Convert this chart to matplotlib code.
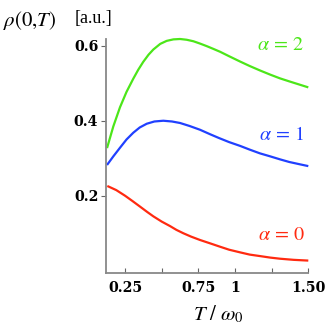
import matplotlib
matplotlib.use("Agg")
import matplotlib.pyplot as plt

plt.rcParams['mathtext.fontset'] = 'stix'
plt.rcParams['font.family'] = ['Liberation Serif', 'DejaVu Serif']

T_green = [0.127, 0.17, 0.2155, 0.26, 0.306, 0.34, 0.374, 0.41, 0.443, 0.49, 0.534, 0.58, 0.625,
           0.67, 0.716, 0.76, 0.807, 0.85, 0.898, 0.96, 1.034, 1.10, 1.171, 1.24, 1.307, 1.37, 1.443, 1.5]
rho_green = [0.327, 0.385, 0.436, 0.477, 0.512, 0.536, 0.557, 0.576, 0.590, 0.605, 0.613, 0.617, 0.618,
             0.616, 0.612, 0.606, 0.599, 0.592, 0.584, 0.572, 0.558, 0.546, 0.534, 0.523, 0.513, 0.505, 0.496, 0.489]

T_blue = [0.127, 0.17, 0.2155, 0.26, 0.306, 0.35, 0.398, 0.45, 0.511, 0.57, 0.625, 0.69, 0.761,
          0.83, 0.89, 0.96, 1.034, 1.10, 1.17, 1.24, 1.307, 1.37, 1.44, 1.5]
rho_blue = [0.282, 0.305, 0.328, 0.350, 0.368, 0.382, 0.392, 0.398, 0.400, 0.398, 0.394, 0.386, 0.376,
            0.364, 0.354, 0.343, 0.333, 0.323, 0.313, 0.305, 0.297, 0.290, 0.284, 0.279]

T_red = [0.129, 0.19, 0.25, 0.30, 0.352, 0.40, 0.443, 0.50, 0.557, 0.60, 0.647, 0.70, 0.761,
         0.83, 0.898, 0.96, 1.034, 1.10, 1.171, 1.24, 1.307, 1.40, 1.5]
rho_red = [0.226, 0.215, 0.200, 0.186, 0.171, 0.157, 0.145, 0.131, 0.119, 0.109, 0.100, 0.091, 0.082,
           0.073, 0.064, 0.056, 0.049, 0.043, 0.039, 0.035, 0.032, 0.029, 0.027]

series = [
    (T_green, rho_green, '#4ce619', r'$\alpha\,=\,2$'),
    (T_blue, rho_blue, '#2040ff', r'$\alpha\,=\,1$'),
    (T_red, rho_red, '#ff2a10', r'$\alpha\,=\,0$'),
]

xticks = [0.25, 0.5, 0.75, 1.0, 1.25, 1.5]
xticklabels = ['0.25', '', '0.75', '1', '', '1.50']
yticks = [0.2, 0.4, 0.6]
yticklabels = ['0.2', '0.4', '0.6']

fig = plt.figure(figsize=(3.32, 3.32), dpi=100)
ax = fig.add_axes([106/332, 1-272.7/332, (308.3-106)/332, (272.7-39)/332])

for T, r, c, lab in series:
    ax.plot(T, r, color=c, lw=1.6, solid_capstyle='butt', solid_joinstyle='round', clip_on=False)

ax.set_xlim(0.12, 1.5)
ax.set_ylim(-0.0053, 0.618)

ax.spines['top'].set_visible(False)
ax.spines['right'].set_visible(False)
for s in ['left', 'bottom']:
    ax.spines[s].set_color('#888888')
    ax.spines[s].set_linewidth(1.3)

ax.set_xticks(xticks)
ax.set_xticklabels(xticklabels)
ax.set_yticks(yticks)
ax.set_yticklabels(yticklabels)
ax.tick_params(axis='x', direction='in', length=3.5, width=0.8, color='#666666', pad=6)
ax.tick_params(axis='y', direction='out', length=3.5, width=0.8, color='#666666', pad=2)
for lbl in ax.get_xticklabels() + ax.get_yticklabels():
    lbl.set_fontweight('bold')
    lbl.set_fontsize(10.2)
    lbl.set_family('DejaVu Serif')

# curve labels
label_pos = [(304, 46), (304, 136), (305, 235)]
for (T, r, c, lab), (px, py) in zip(series, label_pos):
    fig.text(px/332, 1-py/332, lab, color=c, fontsize=14.5, ha='right', va='center')

fig.text(3/332, 1-20/332, r'$\rho\left(0{,}T\right)$', fontsize=15, ha='left', va='center')
fig.text(75/332, 1-19/332, '[a.u.]', fontsize=13, ha='left', va='center')
fig.text(218/332, 1-314/332, r'$T\ /\ \omega_0$', fontsize=15, ha='center', va='center')

fig.savefig('out.png', dpi=100)
